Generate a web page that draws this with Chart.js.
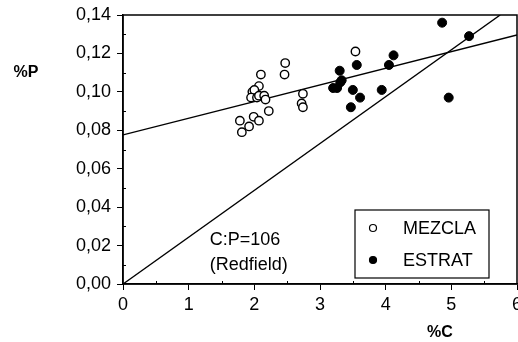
<!DOCTYPE html>
<html>
<head>
<meta charset="utf-8">
<script src="https://cdn.jsdelivr.net/npm/chart.js@4/dist/chart.umd.min.js"></script>
<style>
  html, body { margin: 0; padding: 0; background: #fff; }
  #wrap { width: 518px; height: 342px; }
</style>
</head>
<body>
<div id="wrap"><canvas id="cp-chart"></canvas></div>
<script>
// MEZCLA (open circles)
const mezclaC = [1.78, 1.81, 1.92, 1.99, 2.07, 2.10, 2.07, 1.97, 2.00, 1.95, 2.04, 2.07, 2.15, 2.17, 2.22, 2.47, 2.46, 2.74, 2.72, 2.74, 3.54];
const mezclaP = [0.085, 0.079, 0.082, 0.087, 0.085, 0.109, 0.103, 0.100, 0.101, 0.097, 0.097, 0.098, 0.098, 0.096, 0.090, 0.115, 0.109, 0.099, 0.094, 0.092, 0.121];

// ESTRAT (filled circles)
const estratC = [4.86, 5.27, 4.12, 4.05, 3.56, 3.30, 3.33, 3.31, 3.20, 3.26, 3.50, 3.61, 3.47, 3.94, 4.96];
const estratP = [0.136, 0.129, 0.119, 0.114, 0.114, 0.111, 0.106, 0.105, 0.102, 0.102, 0.101, 0.097, 0.092, 0.101, 0.097];

// fitted line and Redfield line (C:P = 106 molar)
const fitC = [0, 6];
const fitP = [0.0776, 0.1296];
const redfieldC = [0, 5.744];
const redfieldP = [0, 0.14];

const xTickLabels = ['0', '1', '2', '3', '4', '5', '6'];

const FONT = 'Liberation Sans, Arial, Helvetica, sans-serif';

function pts(xs, ys) {
    return xs.map((x, i) => ({ x: x, y: ys[i] }));
}

const decorations = {
    id: 'decorations',
    afterDraw(chart) {
        const ctx = chart.ctx;
        const a = chart.chartArea;
        const xs = chart.scales.x;
        const ys = chart.scales.y;
        ctx.save();
        ctx.strokeStyle = '#000';
        ctx.lineWidth = 1.5;
        ctx.strokeRect(a.left, a.top, a.right - a.left, a.bottom - a.top);

        // minor ticks, pointing inward
        ctx.lineWidth = 1;
        ctx.beginPath();
        for (let v = 0.01; v < 0.14; v += 0.02) {
            const py = Math.round(ys.getPixelForValue(v)) + 0.5;
            ctx.moveTo(a.left, py);
            ctx.lineTo(a.left + 3, py);
        }
        for (let v = 0.5; v < 6; v += 1) {
            const px = Math.round(xs.getPixelForValue(v)) + 0.5;
            ctx.moveTo(px, a.bottom);
            ctx.lineTo(px, a.bottom - 3);
        }
        ctx.stroke();

        // axis titles
        ctx.fillStyle = '#000';
        ctx.font = 'bold 16px ' + FONT;
        ctx.textAlign = 'center';
        ctx.textBaseline = 'middle';
        ctx.fillText('%P', 26, 73);
        ctx.fillText('%C', 440, 333);

        // annotation
        ctx.font = '18px ' + FONT;
        ctx.textAlign = 'left';
        ctx.fillText('C:P=106', xs.getPixelForValue(1.32), ys.getPixelForValue(0.0228));
        ctx.fillText('(Redfield)', xs.getPixelForValue(1.32), ys.getPixelForValue(0.0098));

        // legend box
        const lx = 355, ly = 210, lw = 134, lh = 68;
        ctx.fillStyle = '#fff';
        ctx.fillRect(lx, ly, lw, lh);
        ctx.lineWidth = 1.2;
        ctx.strokeRect(lx, ly, lw, lh);
        const rows = [
            { label: chart.data.datasets[0].label, fill: '#fff', y: ly + 18 },
            { label: chart.data.datasets[1].label, fill: '#000', y: ly + 50 }
        ];
        rows.forEach(r => {
            ctx.beginPath();
            ctx.arc(lx + 18, r.y, 3.5, 0, Math.PI * 2);
            ctx.fillStyle = r.fill;
            ctx.fill();
            ctx.lineWidth = 1.2;
            ctx.strokeStyle = '#000';
            ctx.stroke();
            ctx.fillStyle = '#000';
            ctx.font = '18px ' + FONT;
            ctx.fillText(r.label, lx + 48, r.y + 1);
        });
        ctx.restore();
    }
};

new Chart(document.getElementById('cp-chart'), {
    type: 'scatter',
    data: {
        datasets: [
            {
                label: 'MEZCLA',
                data: pts(mezclaC, mezclaP),
                pointStyle: 'circle',
                pointRadius: 4.2,
                pointBorderWidth: 1.4,
                pointBackgroundColor: '#fff',
                pointBorderColor: '#000'
            },
            {
                label: 'ESTRAT',
                data: pts(estratC, estratP),
                pointStyle: 'circle',
                pointRadius: 4.5,
                pointBorderWidth: 1,
                pointBackgroundColor: '#000',
                pointBorderColor: '#000'
            },
            {
                label: 'fit',
                data: pts(fitC, fitP),
                showLine: true,
                pointRadius: 0,
                borderColor: '#000',
                borderWidth: 1.4
            },
            {
                label: 'Redfield',
                data: pts(redfieldC, redfieldP),
                showLine: true,
                pointRadius: 0,
                borderColor: '#000',
                borderWidth: 1.4
            }
        ]
    },
    options: {
        responsive: true,
        maintainAspectRatio: false,
        animation: false,
        layout: { autoPadding: false, padding: { left: 0, right: 1, top: 15, bottom: 0 } },
        plugins: {
            legend: { display: false },
            tooltip: { enabled: false }
        },
        scales: {
            x: {
                type: 'linear',
                min: 0,
                max: 6,
                ticks: {
                    stepSize: 1,
                    color: '#000',
                    font: { family: FONT, size: 18 },
                    padding: 4,
                    maxRotation: 0,
                    callback: (v) => xTickLabels[v]
                },
                grid: { drawOnChartArea: false, tickLength: 6, color: '#000', tickColor: '#000' },
                border: { color: '#000', width: 1.5 },
                afterFit: (s) => { s.height = 58; s.paddingLeft = 0; s.paddingRight = 0; }
            },
            y: {
                min: 0,
                max: 0.14,
                ticks: {
                    stepSize: 0.02,
                    color: '#000',
                    font: { family: FONT, size: 18 },
                    padding: 6,
                    callback: (v) => v.toFixed(2).replace('.', ',')
                },
                grid: { drawOnChartArea: false, tickLength: 6, color: '#000', tickColor: '#000' },
                border: { color: '#000', width: 1.5 },
                afterFit: (s) => { s.width = 123; s.paddingTop = 0; s.paddingBottom = 0; }
            }
        }
    },
    plugins: [decorations]
});
</script>
</body>
</html>
